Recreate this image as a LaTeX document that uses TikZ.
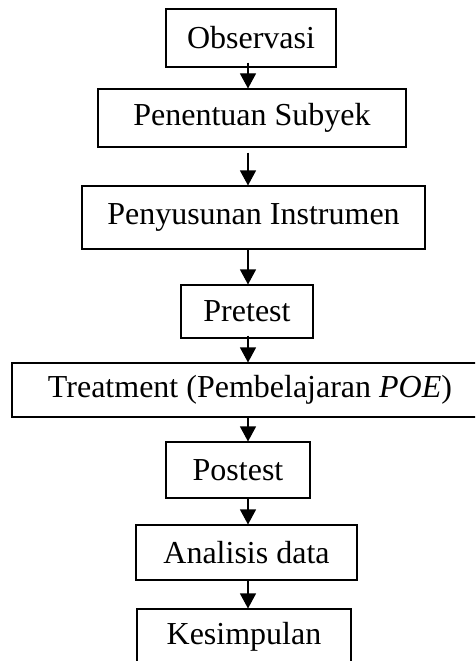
\documentclass[tikz,border=0pt]{standalone}
\usepackage{fontspec}
\setmainfont{Liberation Serif}
\usetikzlibrary{arrows.meta}
\begin{document}
\begin{tikzpicture}[x=1pt,y=-1pt,
  box/.style={draw, line width=1.1pt, inner sep=0pt, font=\fontsize{32}{38}\selectfont},
  arr/.style={line width=1.1pt, -{Triangle[width=16pt,length=15pt]}}]
\clip (0,0) rectangle (475,661);
\node[box, minimum width=170pt, minimum height=58pt] (obs) at (251,38) {Observasi};
\node[box, minimum width=308pt, minimum height=58pt] (subyek) at (252,118) {Penentuan Subyek};
\node[box, minimum width=343pt, minimum height=63pt] (instr) at (253.5,217.5) {Penyusunan Instrumen};
\node[box, minimum width=132pt, minimum height=53pt] (pre) at (247,311.5) {Pretest};
\node[box, minimum width=476pt, minimum height=54pt] (treat) at (250,390) {Treatment (Pembelajaran \textit{POE})};
\node[box, minimum width=144pt, minimum height=56pt] (post) at (238,470) {Postest};
\node[box, minimum width=221pt, minimum height=55pt] (anal) at (246.5,552.5) {Analisis data};
\node[box, minimum width=214pt, minimum height=56pt] (kes) at (244,637) {Kesimpulan};

\coordinate (ax) at (248,0);
\draw[arr, shorten <=-5pt] (obs.south -| ax) -- (subyek.north -| ax);
\draw[arr, shorten <=5pt] (subyek.south -| ax) -- (instr.north -| ax);
\draw[arr] (instr.south -| ax) -- (pre.north -| ax);
\draw[arr, shorten <=-3pt] (pre.south -| ax) -- (treat.north -| ax);
\draw[arr] (treat.south -| ax) -- (post.north -| ax);
\draw[arr] (post.south -| ax) -- (anal.north -| ax);
\draw[arr] (anal.south -| ax) -- (kes.north -| ax);

\end{tikzpicture}
\end{document}
